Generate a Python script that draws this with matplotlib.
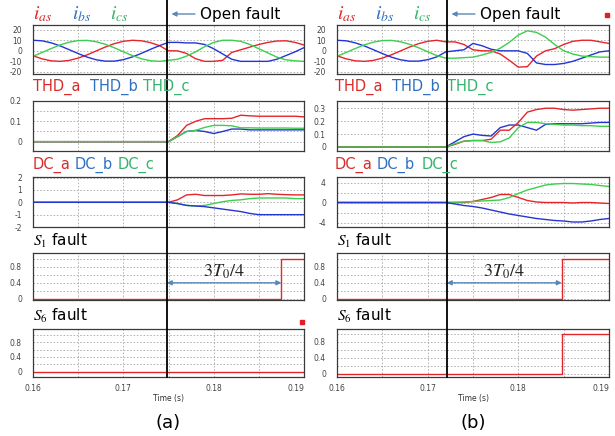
import numpy as np
import matplotlib
matplotlib.use("Agg")
import matplotlib.pyplot as plt
from matplotlib.lines import Line2D
from matplotlib.patches import FancyArrowPatch, Rectangle

plt.rcParams['mathtext.fontset'] = 'stix'
plt.rcParams['font.family'] = ['DejaVu Sans']

# time base (s), one sample per ms
t = np.round(np.arange(0.160, 0.1905, 0.001), 3)

# ---- (a) open fault at ~0.175 s ----
fault_a = 0.1748
step_a = 0.1875
ias_a = [-4.7, -7.6, -9.5, -10, -9.1, -6.9, -3.8, -0.1, 3.6, 6.8, 9.0, 10, 9.5, 7.8, 4.9,
         0, 0, -2.5, -7.5, -10, -10, -9, -1.5, 1, 3.5, 6, 8, 9.3, 9.5, 8, 5.5]
ibs_a = [10, 9.5, 7.6, 4.7, 1.1, -2.6, -6.0, -8.5, -9.8, -9.8, -8.4, -5.8, -2.4, 1.4, 4.9,
         8, 8, 7.5, 7.5, 6, 2, -3, -8, -10, -10, -10, -10, -8, -4.5, -1, 3]
ics_a = [-5.2, -1.6, 2.1, 5.6, 8.2, 9.7, 9.9, 8.6, 6.2, 2.9, -0.9, -4.5, -7.5, -9.4, -10,
         -9, -8, -5, -1, 4, 8, 10, 10, 9, 6, 2, -2, -6, -8.5, -9.5, -10]
thd_ra = [0, 0, 0, 0, 0, 0, 0, 0, 0, 0, 0, 0, 0, 0, 0,
          0, 0.03, 0.08, 0.1, 0.113, 0.113, 0.113, 0.115, 0.13, 0.127, 0.125, 0.125, 0.125, 0.125, 0.125, 0.122]
thd_ba = [0, 0, 0, 0, 0, 0, 0, 0, 0, 0, 0, 0, 0, 0, 0,
          0, 0.025, 0.05, 0.055, 0.05, 0.04, 0.05, 0.062, 0.062, 0.058, 0.058, 0.058, 0.058, 0.058, 0.058, 0.058]
thd_ga = [0, 0, 0, 0, 0, 0, 0, 0, 0, 0, 0, 0, 0, 0, 0,
          0, 0.025, 0.05, 0.055, 0.07, 0.08, 0.08, 0.078, 0.068, 0.068, 0.067, 0.067, 0.067, 0.067, 0.066, 0.066]
dc_ra = [0, 0, 0, 0, 0, 0, 0, 0, 0, 0, 0, 0, 0, 0, 0,
         0, 0.2, 0.6, 0.65, 0.55, 0.55, 0.55, 0.6, 0.68, 0.65, 0.65, 0.7, 0.65, 0.62, 0.6, 0.6]
dc_ba = [0, 0, 0, 0, 0, 0, 0, 0, 0, 0, 0, 0, 0, 0, 0,
         0, -0.1, -0.25, -0.3, -0.35, -0.45, -0.55, -0.65, -0.75, -0.9, -1.0, -1.0, -1.0, -1.0, -1.0, -1.0]
dc_ga = [0, 0, 0, 0, 0, 0, 0, 0, 0, 0, 0, 0, 0, 0, 0,
         0, -0.1, -0.25, -0.3, -0.25, -0.1, 0.05, 0.15, 0.2, 0.3, 0.35, 0.35, 0.35, 0.35, 0.3, 0.3]
ts_a = [0.160, step_a, 0.190]
s1_a = [0, 1, 1]
s6_a = [0, 0, 0]

# ---- (b) open fault at ~0.172 s ----
fault_b = 0.1721
step_b = 0.1848
ias_b = [-4.7, -7.6, -9.5, -10, -9.1, -6.9, -3.8, -0.1, 3.6, 6.8, 9.0, 10,
         8.5, 8.5, 6, 1, 0, 0, -3, -9, -15.5, -15, -5, 0, 2, 6, 9, 10, 10, 8.5, 7]
ibs_b = [10, 9.5, 7.6, 4.7, 1.1, -2.6, -6.0, -8.5, -9.8, -9.8, -8.4, -5.8,
         -1, 0, 1, 7, 4.8, 1.5, 0, 0, 0, -2.5, -11.5, -13, -13, -12, -10, -7, -4, -1, 0]
ics_b = [-5.2, -1.6, 2.1, 5.6, 8.2, 9.7, 9.9, 8.6, 6.2, 2.9, -0.9, -4.5,
         -7, -7, -6.5, -6, -4, -1.5, 2.5, 8, 15, 19, 17.5, 13, 6, 0, -3, -5, -5.5, -6, -6]
thd_rb = [0, 0, 0, 0, 0, 0, 0, 0, 0, 0, 0, 0,
          0, 0.02, 0.045, 0.05, 0.05, 0.06, 0.13, 0.13, 0.19, 0.27, 0.29, 0.3, 0.3, 0.29, 0.285, 0.29, 0.295, 0.3, 0.3]
thd_bb = [0, 0, 0, 0, 0, 0, 0, 0, 0, 0, 0, 0,
          0, 0.04, 0.08, 0.1, 0.09, 0.085, 0.15, 0.17, 0.17, 0.15, 0.13, 0.175, 0.18, 0.18, 0.18, 0.18, 0.185, 0.19, 0.19]
thd_gb = [0, 0, 0, 0, 0, 0, 0, 0, 0, 0, 0, 0,
          0, 0.025, 0.045, 0.05, 0.05, 0.035, 0.04, 0.07, 0.15, 0.19, 0.19, 0.18, 0.175, 0.17, 0.17, 0.165, 0.165, 0.16, 0.16]
dc_rb = [0, 0, 0, 0, 0, 0, 0, 0, 0, 0, 0, 0,
         0, 0, 0, 0.2, 0.6, 1.0, 1.6, 1.6, 1.0, 0.4, 0.1, 0, 0, 0, -0.1, 0, 0, -0.1, -0.2]
dc_bb = [0, 0, 0, 0, 0, 0, 0, 0, 0, 0, 0, 0,
         0, -0.3, -0.6, -0.8, -1.1, -1.5, -1.9, -2.3, -2.6, -2.9, -3.2, -3.4, -3.6, -3.7, -3.9, -3.9, -3.7, -3.4, -3.2]
dc_gb = [0, 0, 0, 0, 0, 0, 0, 0, 0, 0, 0, 0,
         0, 0.05, 0.1, 0.2, 0.3, 0.4, 0.5, 1.0, 1.8, 2.5, 3.0, 3.5, 3.7, 3.8, 3.8, 3.7, 3.6, 3.4, 3.2]
ts_b = [0.160, step_b, 0.190]
s1_b = [0, 1, 1]
s6_b = [0, 1, 1]

xtick_labels = ['0.16', '', '0.17', '', '0.18', '', '0.19']

RED, BLUE, GREEN = '#e4262c', '#2535d2', '#3ccf4c'
LRED, LBLUE, LGREEN = '#d92b2b', '#2f6fc0', '#33b36b'
ARROW = '#5a87b8'

W, H = 615, 436
fig = plt.figure(figsize=(W / 100, H / 100), dpi=100)

rows = [(25, 74), (101, 151), (177, 227), (253, 300), (329, 377)]
cols = [(33, 304), (337, 609)]


def make_ax(c, r):
    x0, x1 = cols[c]
    y0, y1 = rows[r]
    return fig.add_axes([x0 / W, 1 - y1 / H, (x1 - x0) / W, (y1 - y0) / H])


def style(ax, ylim, yticks, ylabels, bottom=False):
    ax.set_xlim(0.16, 0.19)
    ax.set_ylim(*ylim)
    ax.set_xticks(np.arange(0.16, 0.1901, 0.005))
    ax.set_xticklabels(xtick_labels if bottom else [])
    if bottom:
        ax.get_xticklabels()[-1].set_horizontalalignment('right')
    ax.set_yticks(yticks)
    ax.set_yticklabels(ylabels)
    ax.tick_params(length=0, labelsize=5.5, labelcolor='#444444', pad=8)
    ax.tick_params(axis='x', pad=5)
    ax.grid(True, color='#aaaaaa', linestyle=(0, (2, 2)), linewidth=0.6)
    ax.set_axisbelow(True)
    for s in ax.spines.values():
        s.set_color('#3a3a3a')
        s.set_linewidth(0.9)


panels = [
    dict(ia=ias_a, ib=ibs_a, ic=ics_a, tr=thd_ra, tb=thd_ba, tg=thd_ga,
         dr=dc_ra, db=dc_ba, dg=dc_ga, ts=ts_a, s1=s1_a, s6=s6_a,
         fault=fault_a, step=step_a, thd_lim=(-0.046, 0.2),
         thd_ticks=[0, 0.05, 0.1, 0.15, 0.2], thd_lab=['0', '', '0.1', '', '0.2'],
         dc_lim=(-2, 2.05), dc_ticks=[-2, -1, 0, 1, 2], dc_lab=['-2', '-1', '0', '1', '2'],
         s6_lim=(-0.15, 1.16), name='(a)',
         ix=[33, 72, 110], thx=[33, 90, 143], dcx=[33, 75, 118]),
    dict(ia=ias_b, ib=ibs_b, ic=ics_b, tr=thd_rb, tb=thd_bb, tg=thd_gb,
         dr=dc_rb, db=dc_bb, dg=dc_gb, ts=ts_b, s1=s1_b, s6=s6_b,
         fault=fault_b, step=step_b, thd_lim=(-0.031, 0.356),
         thd_ticks=[0, 0.1, 0.2, 0.3], thd_lab=['0', '0.1', '0.2', '0.3'],
         dc_lim=(-4.9, 5.1), dc_ticks=[-4, -2, 0, 2, 4], dc_lab=['-4', '', '0', '', '4'],
         s6_lim=(-0.08, 1.12), name='(b)',
         ix=[337, 375, 413], thx=[335, 392, 447], dcx=[335, 377, 422]),
]

for c, p in enumerate(panels):
    lw = 1.0
    ax1 = make_ax(c, 0)
    ax1.plot(t, p['ia'], color=RED, lw=lw)
    ax1.plot(t, p['ib'], color=BLUE, lw=lw)
    ax1.plot(t, p['ic'], color=GREEN, lw=lw)
    style(ax1, (-22, 24.5), [-20, -10, 0, 10, 20], ['-20', '-10', '0', '10', '20'])

    ax2 = make_ax(c, 1)
    ax2.plot(t, p['tb'], color=BLUE, lw=lw)
    ax2.plot(t, p['tr'], color=RED, lw=lw)
    ax2.plot(t, p['tg'], color=GREEN, lw=lw)
    style(ax2, p['thd_lim'], p['thd_ticks'], p['thd_lab'])

    ax3 = make_ax(c, 2)
    ax3.plot(t, p['dr'], color=RED, lw=lw)
    ax3.plot(t, p['dg'], color=GREEN, lw=lw)
    ax3.plot(t, p['db'], color=BLUE, lw=lw)
    style(ax3, p['dc_lim'], p['dc_ticks'], p['dc_lab'])

    s_ticks = [0, 0.2, 0.4, 0.6, 0.8, 1.0]
    s_lab = ['0', '', '0.4', '', '0.8', '']
    ax4 = make_ax(c, 3)
    ax4.plot(p['ts'], p['s1'], color=RED, lw=lw, drawstyle='steps-post')
    style(ax4, (-0.025, 1.136), s_ticks, s_lab)
    ax4.annotate('', xy=(p['fault'], 0.4), xytext=(p['step'], 0.4),
                 arrowprops=dict(arrowstyle='<|-|>', color=ARROW, lw=1, mutation_scale=7,
                                 shrinkA=0, shrinkB=0))
    ax4.text((p['fault'] + p['step']) / 2, 0.66, r'$3T_0/4$', fontsize=13,
             ha='center', va='center', color='#222222')

    ax5 = make_ax(c, 4)
    ax5.plot(p['ts'], p['s6'], color=RED, lw=lw, drawstyle='steps-post')
    style(ax5, p['s6_lim'], s_ticks, s_lab, bottom=True)

    x0, x1 = cols[c]
    fig.text((x0 + x1) / 2 / W, 1 - 398 / H, 'Time (s)', fontsize=5.5,
             ha='center', va='center', color='#333333')
    fig.text((x0 + x1) / 2 / W, 1 - 423 / H, p['name'], fontsize=13,
             ha='center', va='center')

    # row titles
    for x, s, col in zip(p['ix'], [r'$i_{as}$', r'$i_{bs}$', r'$i_{cs}$'], [LRED, LBLUE, LGREEN]):
        fig.text(x / W, 1 - 14 / H, s, fontsize=14, color=col, va='center')
    for x, s, col in zip(p['thx'], ['THD_a', 'THD_b', 'THD_c'], [LRED, LBLUE, LGREEN]):
        fig.text(x / W, 1 - 87 / H, s, fontsize=10.5, color=col, va='center')
    for x, s, col in zip(p['dcx'], ['DC_a', 'DC_b', 'DC_c'], [LRED, LBLUE, LGREEN]):
        fig.text(x / W, 1 - 165 / H, s, fontsize=10.5, color=col, va='center')
    fig.text(x0 / W, 1 - 241 / H, r'$S_1$ fault', fontsize=11, va='center')
    fig.text(x0 / W, 1 - 316 / H, r'$S_6$ fault', fontsize=11, va='center')

    # fault line across all rows
    xf = fig.transFigure.inverted().transform(ax1.transData.transform((p['fault'], 0)))[0]
    fig.add_artist(Line2D([xf, xf], [1 - 377 / H, 1.0], transform=fig.transFigure,
                          color='black', lw=1.3))
    yo = 1 - 14 / H
    fig.add_artist(FancyArrowPatch((xf + 31 / W, yo), (xf + 2 / W, yo), transform=fig.transFigure,
                                   arrowstyle='-|>', mutation_scale=7, color=ARROW, lw=1))
    fig.text(xf + 33 / W, yo, 'Open fault', fontsize=11, va='center')

# small red marks present in the original
fig.add_artist(Rectangle((605 / W, 1 - 17 / H), 4 / W, 4 / H, transform=fig.transFigure,
                         color='#e41e26'))
fig.add_artist(Rectangle((300 / W, 1 - 324 / H), 4 / W, 4 / H, transform=fig.transFigure,
                         color='#e41e26'))

fig.savefig('out.png', dpi=100)
